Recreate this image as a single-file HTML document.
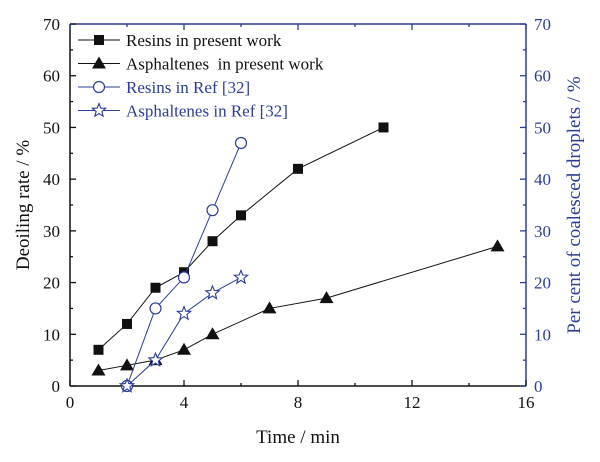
<!DOCTYPE html>
<html><head><meta charset="utf-8"><style>
body{margin:0;background:#fff;}
svg{display:block;font-family:"Liberation Serif",serif;}
</style></head><body>
<svg id="s" width="600" height="462" viewBox="0 0 600 462" xmlns="http://www.w3.org/2000/svg"></svg>
<script>
const B="#2b3d96",K="#111";
const X=v=>70+28.5*v, Y=v=>386-5.171*v;
let h='';
// axes
h+=`<line x1="70" y1="24" x2="526" y2="24" stroke="${B}" stroke-width="1.5"/>`;
h+=`<line x1="526" y1="24" x2="526" y2="386" stroke="${B}" stroke-width="1.5"/>`;
h+=`<line x1="70" y1="24" x2="70" y2="386" stroke="${K}" stroke-width="1.5"/>`;
h+=`<line x1="70" y1="386" x2="526" y2="386" stroke="${K}" stroke-width="1.5"/>`;
for(let v=0;v<=70;v+=5){const y=Y(v),l=v%10==0?6:3;
 h+=`<line x1="70" y1="${y}" x2="${70+l}" y2="${y}" stroke="${K}" stroke-width="1.3"/>`;
 h+=`<line x1="526" y1="${y}" x2="${526-l}" y2="${y}" stroke="${B}" stroke-width="1.3"/>`;
 if(v%10==0){h+=`<text x="60" y="${y+6}" font-size="17" text-anchor="end" fill="${K}">${v}</text>`;
 h+=`<text x="534" y="${y+6}" font-size="17" fill="${B}">${v}</text>`;}}
for(let v=0;v<=16;v+=2){const x=X(v),l=v%4==0?6:3;
 h+=`<line x1="${x}" y1="386" x2="${x}" y2="${386-l}" stroke="${K}" stroke-width="1.3"/>`;
 h+=`<line x1="${x}" y1="24" x2="${x}" y2="${24+l}" stroke="${B}" stroke-width="1.3"/>`;
 if(v%4==0)h+=`<text x="${x}" y="408" font-size="17" text-anchor="middle" fill="${K}">${v}</text>`;}
h+=`<text x="298" y="443" font-size="19" text-anchor="middle" fill="${K}">Time / min</text>`;
h+=`<text transform="translate(29,205) rotate(-90)" font-size="19" text-anchor="middle" fill="${K}">Deoiling rate / %</text>`;
h+=`<text transform="translate(580,205) rotate(-90)" font-size="19" text-anchor="middle" fill="${B}">Per cent of coalesced droplets / %</text>`;
function mk(t,x,y,c){
 if(t=='sq')return `<rect x="${x-5}" y="${y-5}" width="10" height="10" fill="${c}"/>`;
 if(t=='tri')return `<polygon points="${x},${y-7} ${x-7},${y+5} ${x+7},${y+5}" fill="${c}"/>`;
 if(t=='ci')return `<circle cx="${x}" cy="${y}" r="5.5" fill="#fff" stroke="${c}" stroke-width="1.2"/>`;
 let p=[];for(let i=0;i<10;i++){const r=i%2?3:7,a=-Math.PI/2+i*Math.PI/5;p.push((x+r*Math.cos(a)).toFixed(1)+','+(y+r*Math.sin(a)).toFixed(1));}
 return `<polygon points="${p.join(' ')}" fill="#fff" stroke="${c}" stroke-width="1.1"/>`;}
function ser(d,t,c){h+=`<polyline points="${d.map(p=>X(p[0])+','+Y(p[1])).join(' ')}" fill="none" stroke="${c}" stroke-width="1"/>`;
 d.forEach(p=>h+=mk(t,X(p[0]),Y(p[1]),c));}
ser([[1,7],[2,12],[3,19],[4,22],[5,28],[6,33],[8,42],[11,50]],'sq',K);
ser([[1,3],[2,4],[3,5],[4,7],[5,10],[7,15],[9,17],[15,27]],'tri',K);
ser([[2,0],[3,15],[4,21],[5,34],[6,47]],'ci',B);
ser([[2,0],[3,5],[4,14],[5,18],[6,21]],'st',B);
const L=[['sq',K,'Resins in present work'],['tri',K,'Asphaltenes  in present work'],['ci',B,'Resins in Ref [32]'],['st',B,'Asphaltenes in Ref [32]']];
L.forEach((e,i)=>{const y=40+i*23.5;
 h+=`<line x1="78" y1="${y}" x2="120" y2="${y}" stroke="${e[1]}" stroke-width="1"/>`+mk(e[0],99,y,e[1]);
 h+=`<text x="126" y="${y+6}" font-size="17" fill="${e[1]}" xml:space="preserve">${e[2]}</text>`;});
document.getElementById('s').innerHTML=h;
</script>
</body></html>
